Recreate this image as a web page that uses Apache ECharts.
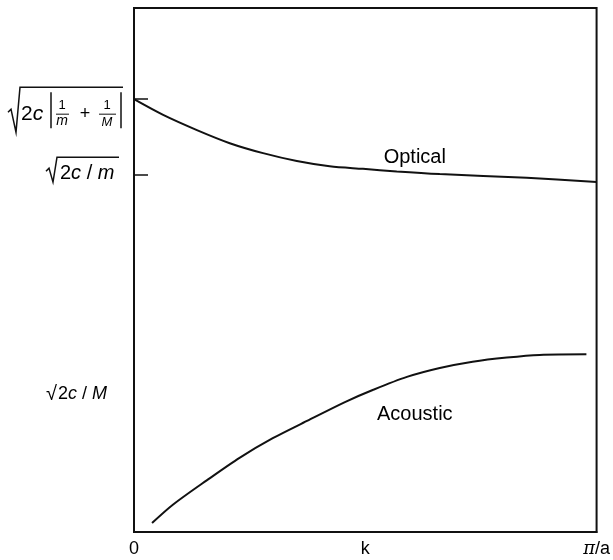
<!DOCTYPE html>
<html>
<head>
<meta charset="utf-8">
<script src="https://cdn.jsdelivr.net/npm/echarts@6/dist/echarts.min.js"></script>
<style>
  html, body { margin: 0; padding: 0; background: #fff; }
  #main { width: 613px; height: 560px; }
</style>
</head>
<body>
<div id="main"></div>
<script>
// k in units of pi/a, omega in arbitrary units (0..100)
const kOptical = [0, 0.063, 0.136, 0.207, 0.279, 0.352, 0.423, 0.495, 0.568, 0.661, 0.849, 1.0];
const wOptical = [82.6, 79.6, 76.7, 74.2, 72.3, 70.8, 69.8, 69.3, 68.8, 68.3, 67.6, 66.8];
const kAcoustic = [0.039, 0.084, 0.158, 0.229, 0.300, 0.374, 0.456, 0.516, 0.590, 0.661, 0.732, 0.806, 0.877, 0.978];
const wAcoustic = [1.7, 5.2, 9.9, 14.2, 17.9, 21.2, 24.8, 27.1, 29.6, 31.3, 32.5, 33.3, 33.8, 33.9];

const xTickValues = [0, 0.5, 1];
const xTickLabels = ['0', 'k', '{pi|π}/a'];
// sqrt(2c(1/m+1/M)), sqrt(2c/m), sqrt(2c/M)
const yTickValues = [82.6, 68.1, 26.5];

const FONT = '"Liberation Sans", Arial, Helvetica, sans-serif';
const INK = '#111';

const pair = (xs, ys) => xs.map((x, i) => [x, ys[i]]);

const chart = echarts.init(document.getElementById('main'), null, { renderer: 'canvas' });

chart.setOption({
  animation: false,
  backgroundColor: '#fff',
  grid: {
    left: 134, right: 16, top: 8, bottom: 28,
    show: true, borderColor: INK, borderWidth: 2
  },
  xAxis: {
    type: 'value', min: 0, max: 1,
    splitLine: { show: false },
    axisLine: { show: true, lineStyle: { color: INK, width: 2 } },
    axisTick: { show: false },
    axisLabel: {
      customValues: xTickValues,
      formatter: (v) => xTickLabels[xTickValues.indexOf(v)],
      color: '#000', fontSize: 18, fontFamily: FONT, margin: 8,
      rich: { pi: { fontStyle: 'italic', fontSize: 18, fontFamily: 'DejaVu Serif', color: '#000' } }
    }
  },
  yAxis: {
    type: 'value', min: 0, max: 100,
    splitLine: { show: false },
    axisLine: { show: true, lineStyle: { color: INK, width: 2 } },
    axisTick: {
      show: true, inside: true, length: 14,
      customValues: yTickValues.slice(0, 2),
      lineStyle: { color: INK, width: 1.5 }
    },
    axisLabel: { show: false }
  },
  series: [
    {
      name: 'Optical', type: 'line', smooth: 0.3, showSymbol: false,
      data: pair(kOptical, wOptical),
      lineStyle: { color: INK, width: 2 },
      markPoint: {
        symbolSize: 0,
        data: [{ coord: [0.607, 71.4] }],
        label: { show: true, position: 'inside', formatter: 'Optical', color: '#000', fontSize: 20, fontFamily: FONT }
      }
    },
    {
      name: 'Acoustic', type: 'line', smooth: 0.3, showSymbol: false,
      data: pair(kAcoustic, wAcoustic),
      lineStyle: { color: INK, width: 2 },
      markPoint: {
        symbolSize: 0,
        data: [{ coord: [0.607, 22.5] }],
        label: { show: true, position: 'inside', formatter: 'Acoustic', color: '#000', fontSize: 20, fontFamily: FONT }
      }
    }
  ]
});

// math labels on the omega axis, placed at the axis values
const py = (v) => chart.convertToPixel({ yAxisIndex: 0 }, v);
const y1 = py(yTickValues[0]);
const y2 = py(yTickValues[1]);
const y3 = py(yTickValues[2]);

const mathRich = (size) => ({
  n: { fontSize: size, fontFamily: FONT, fill: '#000' },
  i: { fontSize: size, fontFamily: FONT, fontStyle: 'italic', fill: '#000' }
});
const txt = (text, x, y, size, align, italic) => ({
  type: 'text',
  style: {
    text: text, x: x, y: y, fill: '#000',
    font: (italic ? 'italic ' : '') + size + 'px ' + FONT,
    align: align || 'left', verticalAlign: 'middle'
  }
});
const rtxt = (text, x, y, size) => ({
  type: 'text',
  style: { text: text, x: x, y: y, rich: mathRich(size), align: 'left', verticalAlign: 'middle' }
});
const ln = (xa, ya, xb, yb, w) => ({
  type: 'line',
  shape: { x1: xa, y1: ya, x2: xb, y2: yb },
  style: { stroke: INK, lineWidth: w || 1.5 }
});
const radical = (pts) => ({
  type: 'polyline',
  shape: { points: pts },
  style: { stroke: INK, lineWidth: 1.5, fill: null }
});

chart.setOption({
  graphic: [
    // sqrt( 2c | 1/m + 1/M | )
    radical([[8, y1 + 13], [11, y1 + 10], [16, y1 + 33], [20, y1 - 12], [123, y1 - 12]]),
    rtxt('{n|2}{i|c}', 21, y1 + 15, 21),
    ln(51, y1 - 7, 51, y1 + 29),
    txt('1', 62, y1 + 6, 13, 'center'),
    ln(56, y1 + 15, 69, y1 + 15, 1),
    txt('m', 62, y1 + 22, 14, 'center', true),
    txt('+', 85, y1 + 15, 18, 'center'),
    txt('1', 107, y1 + 6, 13, 'center'),
    ln(99, y1 + 15, 116, y1 + 15, 1),
    txt('M', 107, y1 + 23, 13, 'center', true),
    ln(121, y1 - 7, 121, y1 + 29),
    // sqrt(2c/m)
    radical([[46, y2 - 4], [49, y2 - 7], [53, y2 + 7], [57, y2 - 18], [119, y2 - 18]]),
    rtxt('{n|2}{i|c}{n| / }{i|m}', 60, y2 - 2, 20),
    // sqrt(2c/M)
    txt('√', 46, y3 + 1, 20),
    rtxt('{n|2}{i|c}{n| / }{i|M}', 58, y3 + 1, 18)
  ]
});
</script>
</body>
</html>
